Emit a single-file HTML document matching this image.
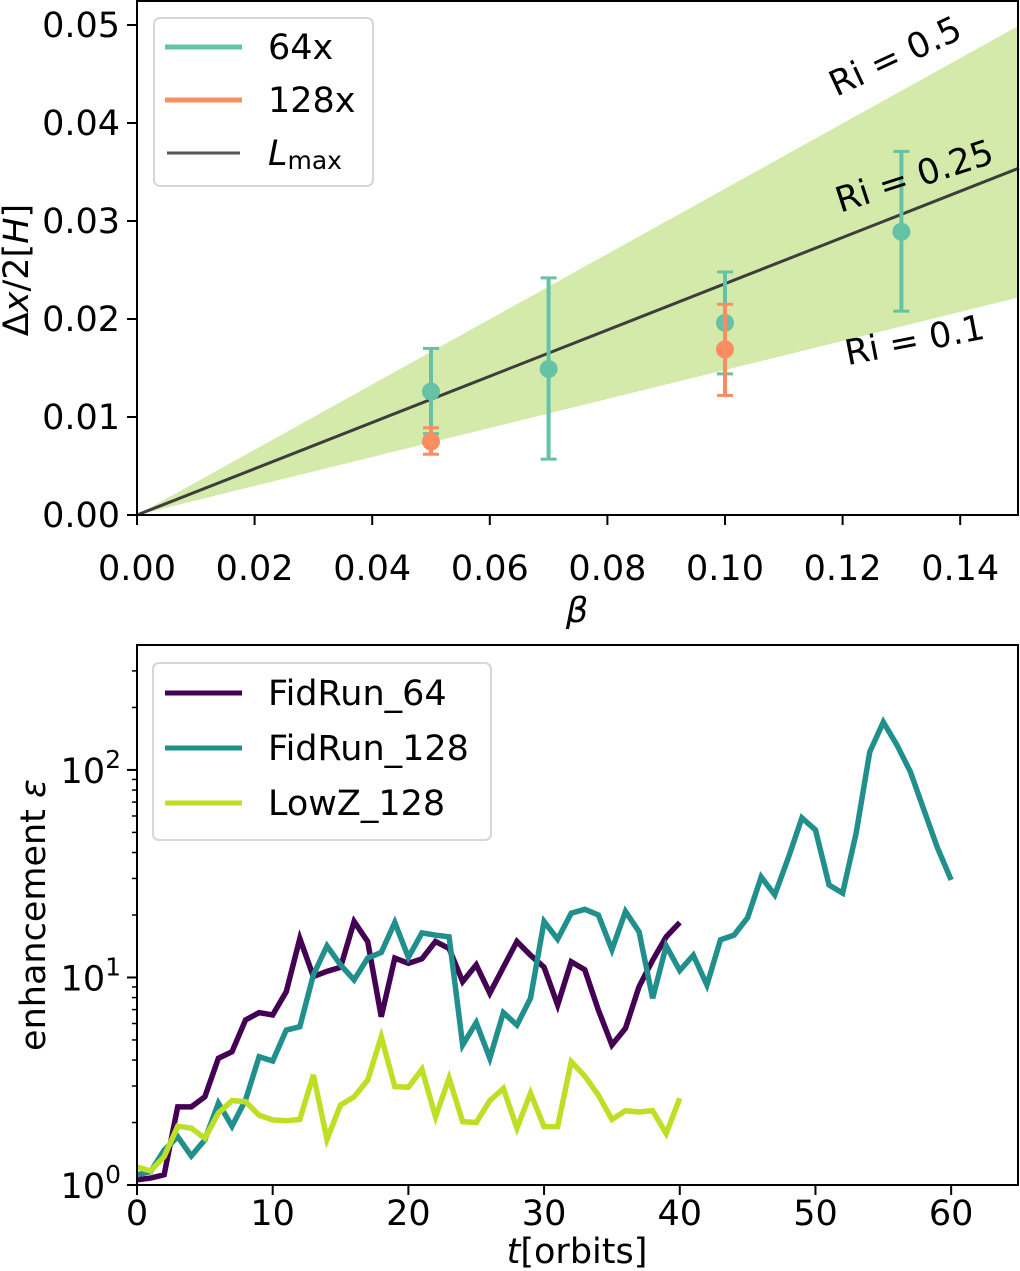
<!DOCTYPE html>
<html><head><meta charset="utf-8"><style>
body{margin:0;background:#fff}
svg{display:block;font-family:"DejaVu Sans","Liberation Sans",sans-serif}
</style></head><body>
<svg id="c" width="1020" height="1271" viewBox="0 0 1020 1271"></svg>
<script>
// ---------- top panel data ----------
const betaTicks=[0,0.02,0.04,0.06,0.08,0.10,0.12,0.14];
const betaTickLabels=["0.00","0.02","0.04","0.06","0.08","0.10","0.12","0.14"];
const dxTicks=[0,0.01,0.02,0.03,0.04,0.05];
const dxTickLabels=["0.00","0.01","0.02","0.03","0.04","0.05"];
const beta64=[0.05,0.07,0.10,0.13];
const val64=[0.0126,0.0149,0.0196,0.0289];
const lo64=[0.0083,0.0057,0.0144,0.0208];
const hi64=[0.0170,0.0242,0.0248,0.0371];
const beta128=[0.05,0.10];
const val128=[0.0075,0.0169];
const lo128=[0.0062,0.0122];
const hi128=[0.0089,0.0215];
const slopeLmax=0.236, slopeRiHigh=0.333, slopeRiLow=0.148;
// ---------- bottom panel data ----------
const tTicks=[0,10,20,30,40,50,60];
const tTickLabels=["0","10","20","30","40","50","60"];
const fid64=[1.06,1.08,1.12,2.38,2.38,2.66,4.08,4.39,6.24,6.77,6.6,8.54,15.4,10.1,10.7,11.2,18.6,14.9,6.47,12.4,11.7,12.3,14.9,13.8,9.55,11.5,8.4,11.2,14.9,12.8,11.2,7.37,11.9,10.9,6.97,4.73,5.69,9.03,12.1,15.7,18.4];
const fid128=[1.12,1.16,1.47,1.71,1.38,1.65,2.48,1.92,2.57,4.15,3.96,5.58,5.79,10.3,14.2,11.5,9.73,12.4,13.2,18.4,12.5,16.4,16.0,15.7,4.73,6.06,4.08,6.77,5.9,7.94,18.6,15.3,20.4,21.3,20.0,13.6,20.8,16.6,7.94,14.2,10.8,12.8,9.2,15.2,16.0,19.4,30.5,25,37.7,58.7,51.4,27.9,25.5,49.7,122,170,132,97.8,64,42,29.5];
const lowZ=[1.22,1.17,1.37,1.92,1.88,1.68,2.22,2.55,2.52,2.17,2.06,2.04,2.07,3.39,1.66,2.43,2.66,3.2,5.18,2.98,2.96,3.61,2.13,3.27,2.02,2.0,2.55,2.92,1.88,2.77,1.91,1.91,3.93,3.35,2.71,2.07,2.28,2.25,2.28,1.77,2.62];

const NS="http://www.w3.org/2000/svg";
const svg=document.getElementById('c');
const FS=35;
function mk(tag,attrs,parent){const e=document.createElementNS(NS,tag);for(const k in attrs)e.setAttribute(k,attrs[k]);(parent||svg).appendChild(e);return e;}

// top axes
const T={l:137,r:1019,t:0,b:515,x0:0,x1:0.15,y0:0,y1:0.05255};
const tx=v=>T.l+(v-T.x0)/(T.x1-T.x0)*(T.r-T.l);
const ty=v=>T.b-(v-T.y0)/(T.y1-T.y0)*(T.b-T.t);
let band=mk('polygon',{points:`${tx(0)},${ty(0)} ${tx(0.15)},${ty(0.15*slopeRiHigh)} ${tx(0.15)},${ty(0.15*slopeRiLow)}`,fill:'#d3eaaa'});


let lm=mk('line',{x1:tx(0),y1:ty(0),x2:tx(0.15),y2:ty(0.15*slopeLmax),stroke:'#3d3d3d','stroke-width':3});


function errSeries(xs,vs,los,his,col,name){
  xs.forEach((b,i)=>{
    const g=mk('g',{});
    
    
    const x=tx(b);
    mk('line',{x1:x,x2:x,y1:ty(los[i]),y2:ty(his[i]),stroke:col,'stroke-width':4},g);
    mk('line',{x1:x-8,x2:x+8,y1:ty(los[i]),y2:ty(los[i]),stroke:col,'stroke-width':3},g);
    mk('line',{x1:x-8,x2:x+8,y1:ty(his[i]),y2:ty(his[i]),stroke:col,'stroke-width':3},g);
    mk('circle',{cx:x,cy:ty(vs[i]),r:9,fill:col},g);
  });
}
errSeries(beta64,val64,lo64,hi64,'#66c2a5','64x');
errSeries(beta128,val128,lo128,hi128,'#fc8d62','128x');
[[896,58,-25,'Ri = 0.5','ri-05-label'],[915,178,-18,'Ri = 0.25','ri-025-label'],[915,342,-11,'Ri = 0.1','ri-01-label']].forEach(a=>{
  const t=mk('text',{x:a[0],y:a[1],'font-size':FS,'text-anchor':'middle','dominant-baseline':'middle',transform:`rotate(${a[2]} ${a[0]} ${a[1]})`});
  t.textContent=a[3];
  
  
});
let fr=mk('rect',{x:T.l,y:T.t+1,width:T.r-T.l-1,height:T.b-T.t-1,fill:'none',stroke:'#000','stroke-width':2});


betaTicks.forEach((v,i)=>{
  mk('line',{x1:tx(v),x2:tx(v),y1:T.b,y2:T.b+10,stroke:'#000','stroke-width':2});
  const t=mk('text',{x:tx(v),y:T.b+65,'font-size':FS,'text-anchor':'middle'});t.textContent=betaTickLabels[i];
  
  
});
dxTicks.forEach((v,i)=>{
  mk('line',{x1:T.l-10,x2:T.l,y1:ty(v),y2:ty(v),stroke:'#000','stroke-width':2});
  const t=mk('text',{x:T.l-17,y:ty(v)+12,'font-size':FS,'text-anchor':'end'});t.textContent=dxTickLabels[i];
  
  
});
let xl=mk('text',{x:577,y:622,'font-size':FS,'text-anchor':'middle','font-style':'italic'});xl.textContent='β';


let yl=mk('text',{x:0,y:0,'font-size':FS,'text-anchor':'middle',transform:'translate(28 270) rotate(-90)'});
yl.innerHTML='Δ<tspan font-style="italic">x</tspan>/2[<tspan font-style="italic">H</tspan>]';


let lg=mk('g',{});


mk('rect',{x:154,y:18,width:219,height:168,rx:6,fill:'#fff','fill-opacity':0.8,stroke:'#d6d6d6','stroke-width':2},lg);
mk('line',{x1:165,x2:242,y1:47,y2:47,stroke:'#66c2a5','stroke-width':5},lg);
mk('line',{x1:165,x2:242,y1:100,y2:100,stroke:'#fc8d62','stroke-width':5},lg);
mk('line',{x1:167,x2:240,y1:153,y2:153,stroke:'#555','stroke-width':3},lg);
let e1=mk('text',{x:268,y:59,'font-size':FS},lg);e1.textContent='64x';
let e2=mk('text',{x:268,y:112,'font-size':FS},lg);e2.textContent='128x';
let e3=mk('text',{x:268,y:165,'font-size':FS},lg);e3.innerHTML='<tspan font-style="italic">L</tspan><tspan font-size="25" dy="4">max</tspan>';

// bottom axes
const B={l:137,r:1019,t:645,b:1185,x0:0,x1:65,ly0:0,ly1:2.602};
const bx=v=>B.l+(v-B.x0)/(B.x1-B.x0)*(B.r-B.l);
const by=v=>B.b-(Math.log10(v)-B.ly0)/(B.ly1-B.ly0)*(B.b-B.t);
function line(vals,col,name){
  const p=mk('polyline',{points:vals.map((v,i)=>bx(i)+','+by(v)).join(' '),fill:'none',stroke:col,'stroke-width':5.5,'stroke-linejoin':'miter'});
  
  
}
line(fid64,'#440154','fidrun-64-line');
line(fid128,'#21908d','fidrun-128-line');
line(lowZ,'#bddf26','lowz-128-line');
let fr2=mk('rect',{x:B.l,y:B.t,width:B.r-B.l-1,height:B.b-B.t,fill:'none',stroke:'#000','stroke-width':2});


tTicks.forEach((v,i)=>{
  mk('line',{x1:bx(v),x2:bx(v),y1:B.b,y2:B.b+10,stroke:'#000','stroke-width':2});
  const t=mk('text',{x:bx(v),y:B.b+40,'font-size':FS,'text-anchor':'middle'});t.textContent=tTickLabels[i];
  
  
});
for(let d=0;d<3;d++){
  for(let m=1;m<10;m++){
    const v=m*Math.pow(10,d);
    if(Math.log10(v)>B.ly1)break;
    const len=m===1?10:5;
    mk('line',{x1:B.l-len,x2:B.l,y1:by(v),y2:by(v),stroke:'#000','stroke-width':m===1?2:1.5});
  }
  const t=mk('text',{x:B.l-16,y:by(Math.pow(10,d))+13,'font-size':FS,'text-anchor':'end'});
  t.innerHTML='10<tspan font-size="25" dy="-15">'+d+'</tspan>';
  
  
}
let xl2=mk('text',{x:577,y:1263,'font-size':FS,'text-anchor':'middle'});xl2.innerHTML='<tspan font-style="italic">t</tspan>[orbits]';


let yl2=mk('text',{x:0,y:0,'font-size':FS,'text-anchor':'middle',transform:'translate(45 915) rotate(-90)'});
yl2.innerHTML='enhancement <tspan font-style="italic">ε</tspan>';


let lg2=mk('g',{});


mk('rect',{x:153,y:663,width:338,height:177,rx:6,fill:'#fff','fill-opacity':0.8,stroke:'#d6d6d6','stroke-width':2},lg2);
[['#440154','FidRun_64',693],['#21908d','FidRun_128',748],['#bddf26','LowZ_128',803]].forEach(a=>{
  mk('line',{x1:165,x2:242,y1:a[2],y2:a[2],stroke:a[0],'stroke-width':5},lg2);
  const t=mk('text',{x:268,y:a[2]+12,'font-size':FS},lg2);t.textContent=a[1];
});
</script>
</body></html>
